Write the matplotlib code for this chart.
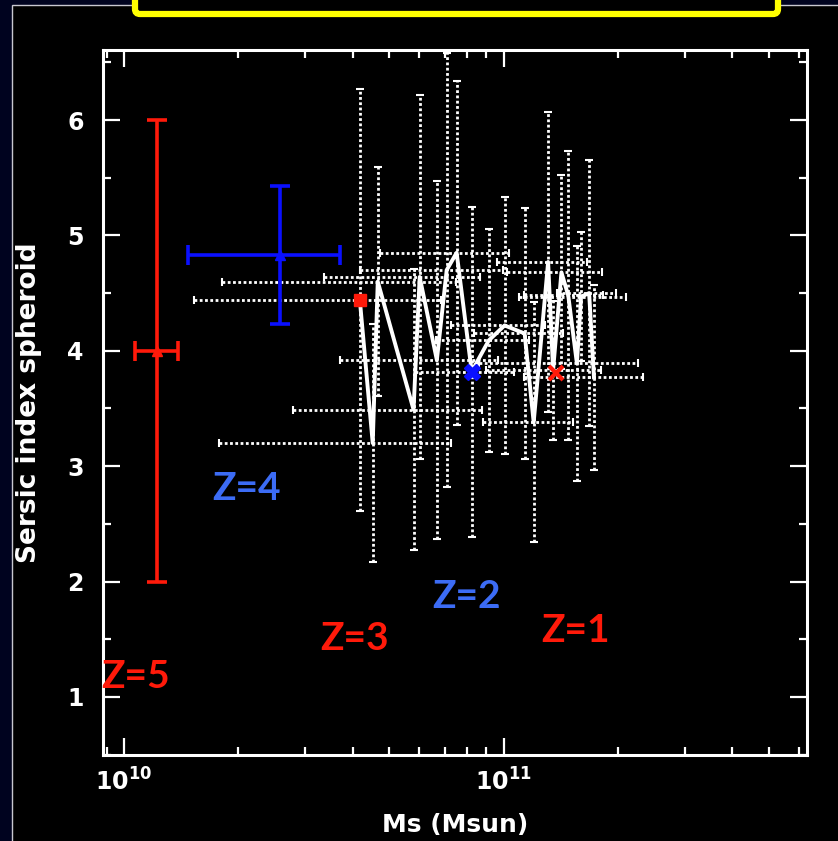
import numpy as np
import matplotlib
matplotlib.use("Agg")
import matplotlib.pyplot as plt
from matplotlib.patches import Rectangle, FancyBboxPatch
from matplotlib.ticker import LogLocator, FixedLocator, NullFormatter


# ====================== data ======================
# binned sample: stellar mass, Sersic index and their errors
bin_mass = [4.18e10, 4.52e10, 4.66e10, 5.79e10, 6.01e10, 6.67e10, 7.08e10,
            7.52e10, 8.24e10, 9.14e10, 1.006e11, 1.136e11, 1.20e11, 1.31e11,
            1.35e11, 1.42e11, 1.48e11, 1.56e11, 1.60e11, 1.68e11, 1.73e11]
bin_sersic = [4.44, 3.20, 4.60, 3.49, 4.64, 3.92, 4.70,
              4.85, 3.82, 4.09, 4.22, 4.15, 3.38, 4.77,
              3.83, 4.68, 4.48, 3.89, 4.47, 4.50, 3.77]
bin_sersic_err = [1.83, 1.03, 0.99, 1.22, 1.58, 1.55, 1.88,
                  1.49, 1.43, 0.97, 1.11, 1.09, 1.04, 1.30,
                  0.60, 0.84, 1.25, 1.02, 0.56, 1.15, 0.80]
bin_mass_err = [2.65e10, 2.74e10, 2.85e10, 3.0e10, 2.65e10, 2.97e10, 2.9e10,
                2.8e10, 2.4e10, 2.5e10, 2.8e10, 3.0e10, 3.2e10, 3.5e10,
                4.5e10, 4.0e10, 3.5e10, 7.0e10, 5.0e10, 3.0e10, 6.0e10]

# high redshift points with errors
z5_mass, z5_mass_lo, z5_mass_hi = 1.22e10, 0.15e10, 0.17e10
z5_sersic, z5_sersic_err = 4.0, 2.0
z4_mass, z4_mass_lo, z4_mass_hi = 2.57e10, 1.10e10, 1.13e10
z4_sersic, z4_sersic_err = 4.83, 0.60

# single markers for Z=3, Z=2, Z=1
z3_mass, z3_sersic = 4.18e10, 4.44
z2_mass, z2_sersic = 8.24e10, 3.82
z1_mass, z1_sersic = 1.37e11, 3.81

# redshift labels: text, colour, position in figure pixels
z_labels = ["Z=5", "Z=4", "Z=3", "Z=2", "Z=1"]
z_colors = ["#ff1a0a", "#3c6cf5", "#ff1a0a", "#3c6cf5", "#ff1a0a"]
z_pos = [(136, 676), (246, 488), (355, 638), (466, 597), (575, 631)]

y_ticks = [1, 2, 3, 4, 5, 6]
x_ticks = [1e10, 1e11]
x_tick_labels = [r"$\mathbf{10^{10}}$", r"$\mathbf{10^{11}}$"]

W, H = 838, 841
NAVY = "#00031f"


fig = plt.figure(figsize=(W / 100, H / 100), dpi=100, facecolor=NAVY)

# black panel with thin grey outline
fig.patches.append(Rectangle((12 / W, -0.01), 1.0, 1 - 5 / H + 0.01,
                             transform=fig.transFigure, facecolor="black",
                             edgecolor="#c8c8d0", linewidth=1.0, zorder=-5))
# yellow title frame (top part cropped)
fig.patches.append(FancyBboxPatch((135 / W, 1 - 14 / H), 643 / W, 40 / H,
                                  boxstyle="round,pad=0,rounding_size=0.006",
                                  transform=fig.transFigure, facecolor="black",
                                  edgecolor="#ffff00", linewidth=4.5, zorder=-4))

ax = fig.add_axes([103 / W, 1 - 755 / H, (807 - 103) / W, (755 - 50) / H])
ax.set_facecolor("black")
ax.set_xscale("log")
ax.set_xlim(8.8e9, 6.3e11)
ax.set_ylim(0.497, 6.607)

# dotted error bars of the binned sample
dot = (0, (1.0, 0.9))
eb = ax.errorbar(bin_mass, bin_sersic, yerr=bin_sersic_err, xerr=bin_mass_err,
                 fmt="none", ecolor="white", elinewidth=2.0, capsize=3,
                 capthick=1.5, zorder=2)
for coll in eb[2]:
    coll.set_linestyle(dot)

ax.plot(bin_mass, bin_sersic, color="white", lw=2.8, zorder=3)

# Z=5 and Z=4 with error bars
ax.errorbar([z5_mass], [z5_sersic], yerr=z5_sersic_err,
            xerr=[[z5_mass_lo], [z5_mass_hi]], fmt="^", color="#ff1a0a",
            ms=7, elinewidth=2.6, capsize=7, capthick=2.6, zorder=4)
ax.errorbar([z4_mass], [z4_sersic], yerr=z4_sersic_err,
            xerr=[[z4_mass_lo], [z4_mass_hi]], fmt="^", color="#0a10ff",
            ms=7, elinewidth=2.6, capsize=7, capthick=2.6, zorder=4)

ax.plot([z3_mass], [z3_sersic], "s", color="#ff1a0a", ms=9, zorder=5)
ax.plot([z2_mass], [z2_sersic], "X", color="#0a10ff", ms=11, zorder=5)
ax.plot([z1_mass], [z1_sersic], "x", color="#ff1a0a", ms=10, mew=3, zorder=5)

# axes frame and ticks
for sp in ax.spines.values():
    sp.set_color("white")
    sp.set_linewidth(2.2)
ax.tick_params(which="both", direction="in", colors="white", top=True,
               right=True, width=1.6)
ax.tick_params(which="major", length=12, labelsize=17)
ax.tick_params(axis="y", which="major", pad=14)
ax.tick_params(axis="x", which="major", pad=10)
ax.tick_params(which="minor", length=5.5)
ax.set_yticks(y_ticks)
ax.yaxis.set_minor_locator(FixedLocator(np.arange(0.5, 6.6, 0.5)))
ax.set_xticks(x_ticks)
ax.set_xticklabels(x_tick_labels)
ax.xaxis.set_minor_locator(LogLocator(base=10, subs=np.arange(2, 10)))
ax.xaxis.set_minor_formatter(NullFormatter())
for lab in ax.get_yticklabels() + ax.get_xticklabels():
    lab.set_fontweight("bold")
    lab.set_color("white")

ax.set_xlabel("Ms (Msun)", color="white", fontsize=18, fontweight="bold",
              labelpad=12)
ax.set_ylabel("Sersic index spheroid", color="white", fontsize=19,
              fontweight="bold", labelpad=18)

for txt, col, (px, py) in zip(z_labels, z_colors, z_pos):
    fig.text(px / W, 1 - py / H, txt, color=col, fontsize=28,
             fontweight="bold", family=["Lato", "DejaVu Sans"],
             ha="center", va="center", zorder=10)

fig.savefig("out.png", dpi=100, facecolor=fig.get_facecolor())
